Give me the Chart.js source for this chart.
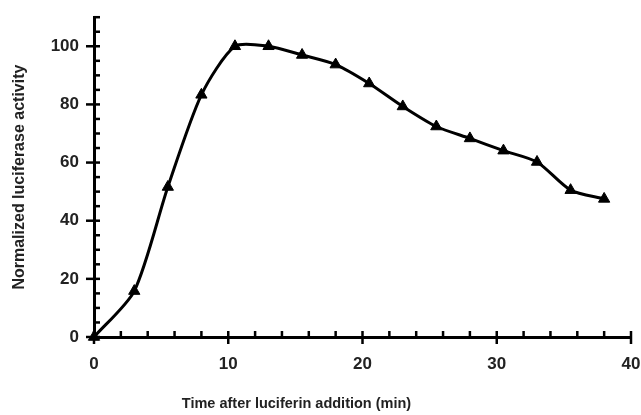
<!DOCTYPE html>
<html>
<head>
<meta charset="utf-8">
<script src="https://cdn.jsdelivr.net/npm/chart.js@4/dist/chart.umd.min.js"></script>
<style>
  html, body { margin: 0; padding: 0; background: #fff; }
  #wrap { width: 641px; height: 415px; }
</style>
</head>
<body>
<div id="wrap"><canvas id="c"></canvas></div>
<script>
// luciferase kinetics
const timeMin  = [0, 3, 5.5, 8, 10.5, 13, 15.5, 18, 20.5, 23, 25.5, 28, 30.5, 33, 35.5, 38];
const activity = [0, 15.8, 51.6, 83.3, 100, 100, 97, 93.7, 87.2, 79.3, 72.4, 68.3, 64.1, 60.2, 50.5, 47.5];

const xTickLabels = [0, 10, 20, 30, 40];
const yTickLabels = [0, 20, 40, 60, 80, 100];

const xTitle = "Time after luciferin addition (min)";
const yTitle = "Normalized luciferase activity";

const TEXT = "#222";
const FONT = "'Liberation Sans', Arial, sans-serif";

// minor ticks point into the plot, major ones cross the axis
const tickMarks = {
  id: "tickMarks",
  afterDraw(chart) {
    const { ctx, chartArea: a, scales: { x, y } } = chart;
    ctx.save();
    ctx.strokeStyle = "#000";
    ctx.lineWidth = 2.5;
    x.ticks.forEach((t) => {
      const px = x.getPixelForValue(t.value);
      const major = xTickLabels.includes(t.value);
      ctx.beginPath();
      ctx.moveTo(px, a.bottom - 6);
      ctx.lineTo(px, a.bottom + (major ? 7 : 0));
      ctx.stroke();
    });
    y.ticks.forEach((t) => {
      const py = y.getPixelForValue(t.value);
      const major = yTickLabels.includes(t.value);
      ctx.beginPath();
      ctx.moveTo(a.left - (major ? 8 : 0), py);
      ctx.lineTo(a.left + 6, py);
      ctx.stroke();
    });
    // x title sits left of the axis centre in the original
    ctx.fillStyle = TEXT;
    ctx.font = "bold 14.5px " + FONT;
    ctx.textAlign = "center";
    ctx.textBaseline = "middle";
    ctx.fillText(xTitle, (x.left + x.right) / 2 - 66, 404);
    ctx.restore();
  }
};

new Chart(document.getElementById("c").getContext("2d"), {
  type: "line",
  data: {
    datasets: [{
      data: timeMin.map((t, i) => ({ x: t, y: activity[i] })),
      borderColor: "#000",
      borderWidth: 3,
      tension: 0.25,
      fill: false,
      clip: false,
      pointStyle: "triangle",
      pointRadius: 6.5,
      pointBackgroundColor: "#000",
      pointBorderColor: "#000",
      pointBorderWidth: 1
    }]
  },
  options: {
    responsive: true, maintainAspectRatio: false,
    animation: false,
    layout: { padding: { top: 15, right: 0, left: 0, bottom: 0 } },
    plugins: { legend: { display: false }, tooltip: { enabled: false } },
    scales: {
      x: {
        type: "linear", min: 0, max: 40,
        afterFit: (s) => { s.height = 78; s.paddingRight = 10; s.paddingLeft = 0; },
        border: { display: true, color: "#000", width: 3 },
        grid: { display: true, drawOnChartArea: false, drawTicks: true, tickLength: 8, tickColor: "rgba(0,0,0,0)" },
        ticks: {
          stepSize: 2, autoSkip: false, maxRotation: 0, padding: 9,
          color: TEXT, font: { family: FONT, size: 17, weight: "bold" },
          callback: (v) => (xTickLabels.includes(v) ? String(v) : "")
        },
        title: { display: false }
      },
      y: {
        type: "linear", min: 0, max: 110,
        afterFit: (s) => { s.width = 94; },
        border: { display: true, color: "#000", width: 3 },
        grid: { display: true, drawOnChartArea: false, drawTicks: true, tickLength: 8, tickColor: "rgba(0,0,0,0)" },
        ticks: {
          stepSize: 5, autoSkip: false, padding: 7,
          color: TEXT, font: { family: FONT, size: 17, weight: "bold" },
          callback: (v) => (yTickLabels.includes(v) ? String(v) : "")
        },
        title: {
          display: true, text: yTitle, color: TEXT,
          font: { family: FONT, size: 16, weight: "bold" },
          padding: { top: 10, bottom: 0 }
        }
      }
    }
  },
  plugins: [tickMarks]
});
</script>
</body>
</html>
